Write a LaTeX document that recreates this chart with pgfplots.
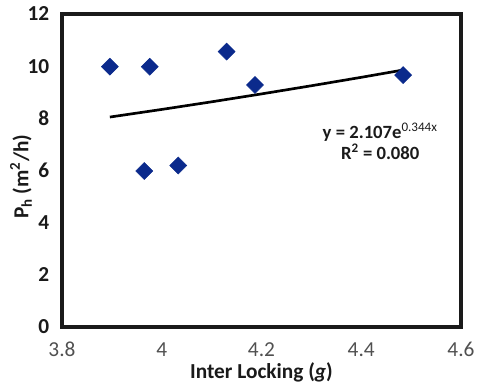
\documentclass[border=0pt]{standalone}
\usepackage{pgfplots}
\pgfplotsset{compat=1.18}
\usepackage{fontspec}
\setmainfont{Carlito}
\definecolor{mk}{HTML}{0B2A8C}
\definecolor{ax}{HTML}{1A1A1A}
\definecolor{xt}{HTML}{505050}
\begin{document}
\begin{tikzpicture}
\begin{axis}[
  at={(0,0)}, anchor=south west,
  scale only axis, width=299.25pt, height=234.75pt,
  xmin=3.8, xmax=4.6, ymin=0, ymax=12,
  xtick={3.8,4,4.2,4.4,4.6}, ytick={0,2,4,6,8,10,12},
  xticklabels={3.8,4,4.2,4.4,4.6},
  major tick length=0pt,
  axis line style={line width=2.3pt, color=ax},
  /pgf/number format/assume math mode=true,
  yticklabel style={font=\fontsize{16}{19}\selectfont\bfseries, text=ax, xshift=-6pt},
  xticklabel style={font=\fontsize{16}{19}\selectfont, text=xt, yshift=-8pt},
  xlabel={Inter Locking (\textit{g})},
  ylabel={P\textsubscript{h} (m\textsuperscript{2}/h)},
  label style={font=\fontsize{16}{19}\selectfont\bfseries, text=ax},
  xlabel style={at={(axis description cs:0.5,0)}, anchor=base, yshift=-39pt},
  ylabel style={at={(axis description cs:0,0.48)}, anchor=center, yshift=30.75pt},
  clip=false,
]
\addplot[only marks, mark=square*, mark size=4.5pt, mark options={rotate=45, fill=mk, draw=mk}]
coordinates {(3.896,9.98) (3.976,9.98) (3.965,5.98) (4.033,6.19) (4.130,10.56) (4.187,9.28) (4.484,9.66)};
\addplot[no marks, black, line width=2pt]
coordinates {(3.896,8.049) (4.0,8.341) (4.1,8.633) (4.2,8.936) (4.3,9.249) (4.4,9.572) (4.484,9.853)};
\node[font=\fontsize{14}{17}\selectfont\bfseries, text=ax, align=center] at (axis cs:4.438,7.11)
  {y = 2.107e\textsuperscript{\mdseries 0.344x}\\[-1pt]R\textsuperscript{2} = 0.080};
\end{axis}
\pgfresetboundingbox
\useasboundingbox (-46.5pt,-45.75pt) rectangle (314.25pt,245.25pt);
\end{tikzpicture}
\end{document}
